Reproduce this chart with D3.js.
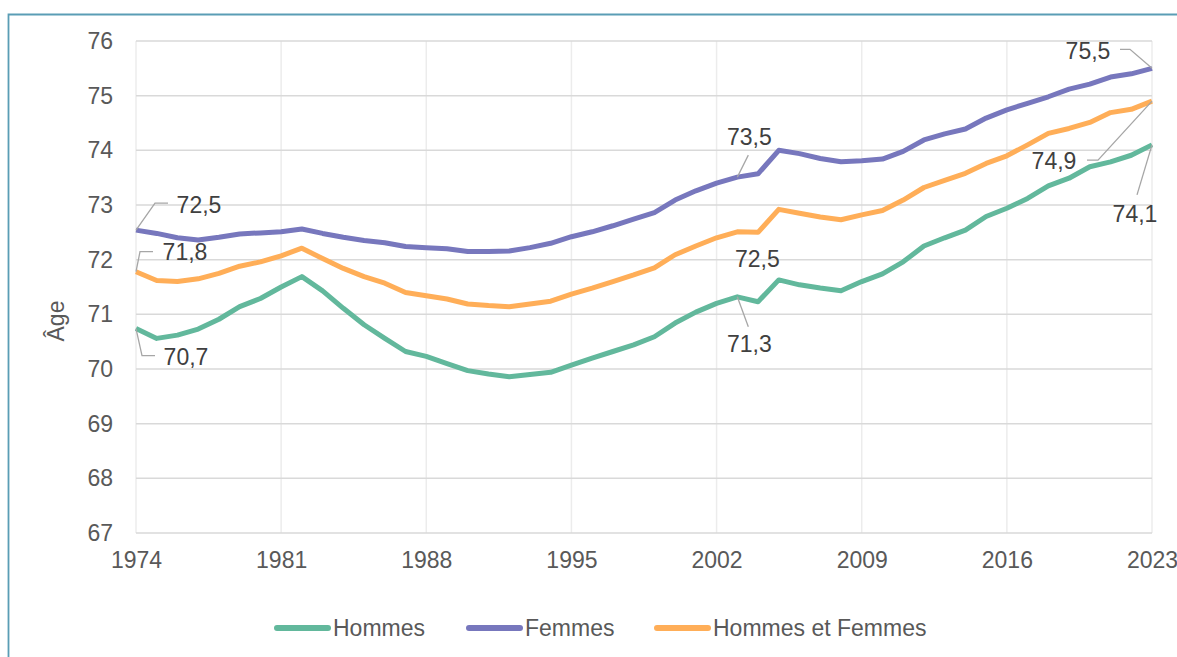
<!DOCTYPE html>
<html>
<head>
<meta charset="utf-8">
<script src="https://cdn.jsdelivr.net/npm/d3@7"></script>
<style>
  body { margin: 0; background: #fff; }
  svg { display: block; font-family: "Liberation Sans", Arial, sans-serif; }
</style>
</head>
<body>
<script>
// years on the x axis
const years = d3.range(1974, 2024);
const xTicks = [1974, 1981, 1988, 1995, 2002, 2009, 2016, 2023];
const yTicks = [67, 68, 69, 70, 71, 72, 73, 74, 75, 76];

const hommes = [
  70.74, 70.56, 70.62, 70.73, 70.91, 71.14, 71.29, 71.50, 71.69, 71.43,
  71.11, 70.81, 70.56, 70.32, 70.23, 70.10, 69.97, 69.91, 69.86, 69.90,
  69.94, 70.07, 70.20, 70.32, 70.44, 70.59, 70.84, 71.04, 71.20, 71.32,
  71.23, 71.63, 71.54, 71.48, 71.43, 71.60, 71.74, 71.96, 72.25, 72.40,
  72.54, 72.79, 72.94, 73.12, 73.35, 73.49, 73.70, 73.79, 73.91, 74.10
];
const femmes = [
  72.54, 72.48, 72.40, 72.36, 72.41, 72.47, 72.49, 72.51, 72.56, 72.48,
  72.41, 72.35, 72.31, 72.24, 72.22, 72.20, 72.15, 72.15, 72.16, 72.22,
  72.30, 72.42, 72.51, 72.62, 72.74, 72.86, 73.09, 73.26, 73.40, 73.51,
  73.57, 74.00, 73.94, 73.85, 73.79, 73.81, 73.84, 73.98, 74.19, 74.30,
  74.39, 74.59, 74.74, 74.86, 74.98, 75.12, 75.21, 75.34, 75.40, 75.50
];
const ensemble = [
  71.78, 71.62, 71.60, 71.65, 71.75, 71.88, 71.96, 72.07, 72.21, 72.02,
  71.84, 71.69, 71.57, 71.40, 71.34, 71.28, 71.19, 71.16, 71.14, 71.19,
  71.24, 71.37, 71.48, 71.60, 71.72, 71.85, 72.09, 72.25, 72.40, 72.51,
  72.50, 72.92, 72.85, 72.78, 72.73, 72.82, 72.90, 73.09, 73.32, 73.45,
  73.58, 73.76, 73.90, 74.10, 74.31, 74.40, 74.51, 74.69, 74.75, 74.90
];

const seriesNames = ["Hommes", "Femmes", "Hommes et Femmes"];
const labelYears = [1974, 2003, 2023];

const w = 1177;
const h = 657;
const plotLeft = 136, plotRight = 1152, plotTop = 41, plotBottom = 533;
const fontSize = 23;

const colors = ["#62b89c", "#7777bd", "#ffae58"];
const seriesData = [hommes, femmes, ensemble];

// label placement (text offset + leader elbows), per series per labelled year
const labelLayout = {
  "Hommes": {
    1974: { t: [50, 28], path: [[6, 27], [19, 27]] },
    2003: { t: [12, 47], path: [[11, 30]] },
    2023: { t: [-17, 69], path: [[-15, 50]] }
  },
  "Femmes": {
    1974: { t: [63, -25], path: [[19, -27], [32, -27]] },
    2003: { t: [12, -40], path: [[11, -22]] },
    2023: { t: [-64, -18], path: [[-22, -19], [-32, -19]] }
  },
  "Hommes et Femmes": {
    1974: { t: [49, -20], path: [[4, -20], [17, -20]] },
    2003: { t: [20, 27], path: [] },
    2023: { t: [-98, 60], path: [[-54, 59], [-65, 59]] }
  }
};

const xScale = d3.scaleLinear().domain([1974, 2023]).range([plotLeft, plotRight]);
const yScale = d3.scaleLinear().domain([67, 76]).range([plotBottom, plotTop]);

const svg = d3.select("body")
    .append("svg")
    .attr("width", w)
    .attr("height", h);

// outer frame
svg.append("path")
    .attr("d", `M8.5,${h + 5} L8.5,14.5 L${w + 5},14.5`)
    .attr("fill", "none")
    .attr("stroke", "#5a9db5")
    .attr("stroke-width", 1.8);

// vertical grid
svg.append("g")
    .selectAll("line")
    .data(xTicks)
    .enter()
    .append("line")
    .attr("x1", d => xScale(d))
    .attr("x2", d => xScale(d))
    .attr("y1", plotTop)
    .attr("y2", plotBottom)
    .attr("stroke", "#ececec")
    .attr("stroke-width", 1.5);

// horizontal grid
svg.append("g")
    .selectAll("line")
    .data(yTicks)
    .enter()
    .append("line")
    .attr("x1", plotLeft)
    .attr("x2", plotRight)
    .attr("y1", d => yScale(d))
    .attr("y2", d => yScale(d))
    .attr("stroke", "#d9d9d9")
    .attr("stroke-width", 1.5);

// axes (labels only, no domain lines)
const yAxis = svg.append("g")
    .attr("transform", "translate(113,0)")
    .call(d3.axisLeft(yScale).tickValues(yTicks).tickSize(0).tickPadding(0));
yAxis.select(".domain").remove();
yAxis.selectAll("text")
    .attr("font-size", fontSize)
    .attr("font-family", "Liberation Sans, Arial, sans-serif")
    .attr("fill", "#595959");

const xAxis = svg.append("g")
    .attr("transform", "translate(0,552)")
    .call(d3.axisBottom(xScale).tickValues(xTicks).tickFormat(d3.format("d")).tickSize(0).tickPadding(0));
xAxis.select(".domain").remove();
xAxis.selectAll("text")
    .attr("font-size", fontSize)
    .attr("font-family", "Liberation Sans, Arial, sans-serif")
    .attr("fill", "#595959");

svg.append("text")
    .attr("transform", "translate(64,321) rotate(-90)")
    .attr("text-anchor", "middle")
    .attr("font-size", fontSize)
    .attr("fill", "#595959")
    .text("Âge");

// lines
const line = d3.line()
    .x((d, i) => xScale(years[i]))
    .y(d => yScale(d));

svg.append("g")
    .selectAll("path")
    .data(seriesData)
    .enter()
    .append("path")
    .attr("d", d => line(d))
    .attr("fill", "none")
    .attr("stroke", (d, i) => colors[i])
    .attr("stroke-width", 5)
    .attr("stroke-linejoin", "round");

// data labels
const fmt = v => d3.format(".1f")(v).replace(".", ",");
const labels = [];
seriesNames.forEach((name, si) => {
  labelYears.forEach(yr => {
    const v = seriesData[si][years.indexOf(yr)];
    labels.push({ name, yr, v, lay: labelLayout[name][yr] });
  });
});

const lg = svg.append("g");
labels.forEach(d => {
  const px = xScale(d.yr), py = yScale(d.v);
  if (d.lay.path.length) {
    const pts = [[px, py]].concat(d.lay.path.map(p => [px + p[0], py + p[1]]));
    lg.append("path")
      .attr("d", d3.line()(pts))
      .attr("fill", "none")
      .attr("stroke", "#a6a6a6")
      .attr("stroke-width", 1.3);
  }
  lg.append("text")
    .attr("x", px + d.lay.t[0])
    .attr("y", py + d.lay.t[1])
    .attr("dy", "0.36em")
    .attr("text-anchor", "middle")
    .attr("font-size", fontSize)
    .attr("fill", "#404040")
    .text(fmt(d.v));
});

// legend
const legendX = [274, 466, 654];
const legend = svg.append("g");
seriesNames.forEach((name, i) => {
  legend.append("line")
    .attr("x1", legendX[i] + 3)
    .attr("x2", legendX[i] + 54)
    .attr("y1", 628)
    .attr("y2", 628)
    .attr("stroke", colors[i])
    .attr("stroke-width", 6)
    .attr("stroke-linecap", "round");
  legend.append("text")
    .attr("x", legendX[i] + 59)
    .attr("y", 628)
    .attr("dy", "0.36em")
    .attr("font-size", fontSize)
    .attr("fill", "#595959")
    .text(name);
});
</script>
</body>
</html>
